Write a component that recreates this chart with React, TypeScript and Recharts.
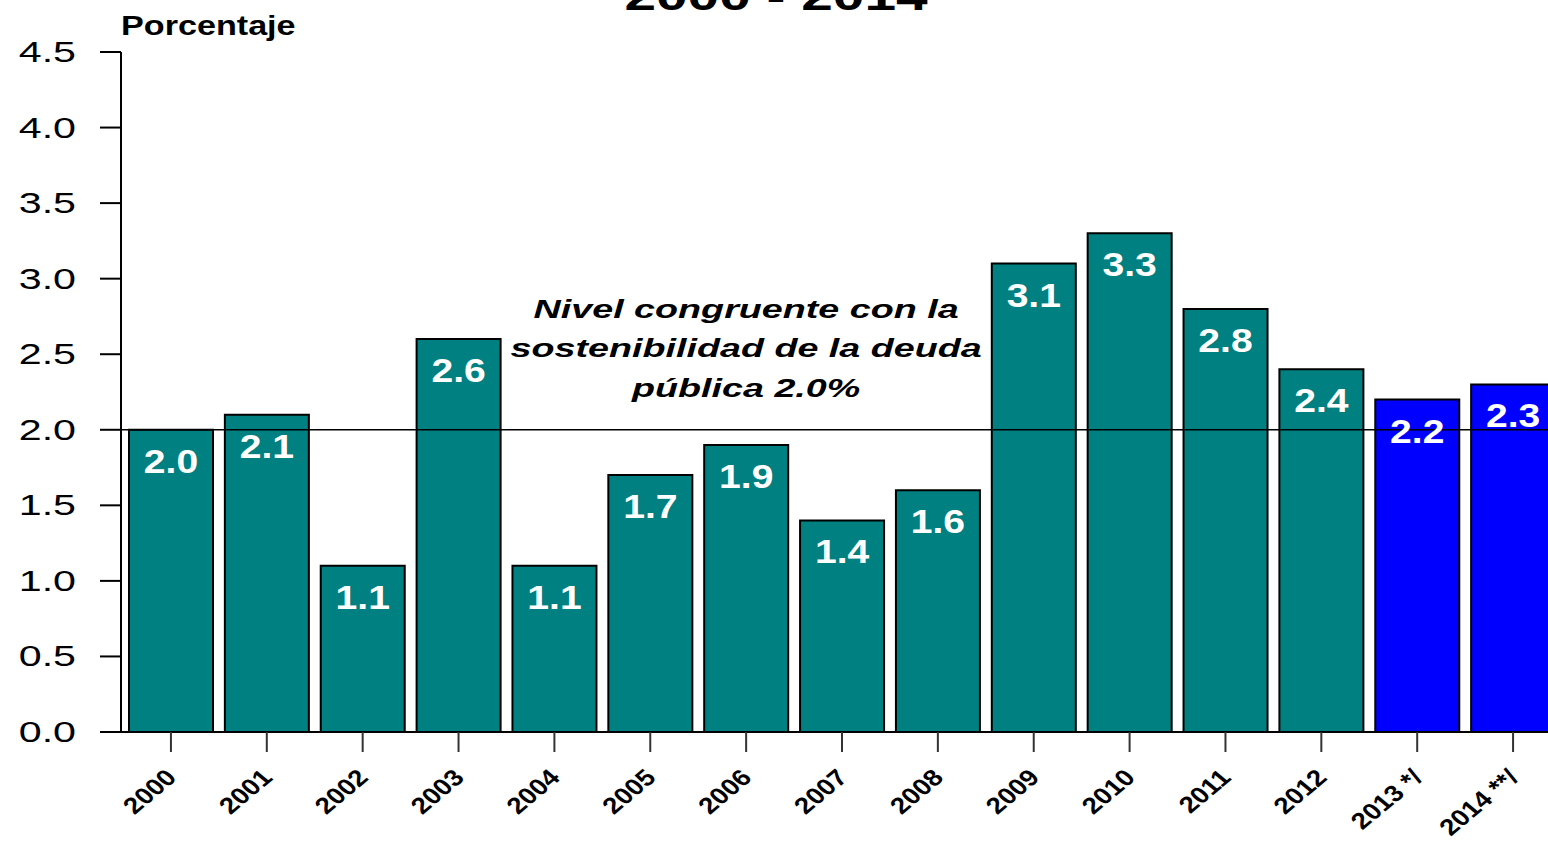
import React from 'react';
import { BarChart, Bar, XAxis, YAxis, Cell, ReferenceLine, ReferenceDot, LabelList } from 'recharts';

const years = ['2000', '2001', '2002', '2003', '2004', '2005', '2006', '2007', '2008', '2009', '2010', '2011', '2012', '2013 */', '2014 **/'];
const values = [2.0, 2.1, 1.1, 2.6, 1.1, 1.7, 1.9, 1.4, 1.6, 3.1, 3.3, 2.8, 2.4, 2.2, 2.3];
const estimated = [false, false, false, false, false, false, false, false, false, false, false, false, false, true, true];
const yTicks = [0, 0.5, 1.0, 1.5, 2.0, 2.5, 3.0, 3.5, 4.0, 4.5];
const titleText = '2000 - 2014';
const yAxisTitle = 'Porcentaje';
const noteLines = ['Nivel congruente con la', 'sostenibilidad de la deuda', 'pública 2.0%'];
const sustainableLevel = 2.0;
const noteYear = '2006';
const noteValue = 2.74;

const data = years.map((y, i) => ({ year: y, value: values[i], estimated: estimated[i] }));

const FONT = '"Liberation Sans", Arial, sans-serif';
const TEAL = '#008080';
const BLUE = '#0000FF';

const YTick = (props: any) => {
  const { x, y, payload } = props;
  return (
    <text
      transform={`translate(${x - 22},${y + 10}) scale(1.42,1)`}
      textAnchor="end"
      fontFamily={FONT}
      fontSize={29}
      fill="#000"
    >
      {Number(payload.value).toFixed(1)}
    </text>
  );
};

const XTick = (props: any) => {
  const { x, y, payload } = props;
  return (
    <text
      transform={`translate(${x + 7},${y + 25}) scale(1.2,1) rotate(-45)`}
      textAnchor="end"
      fontFamily={FONT}
      fontWeight="bold"
      fontSize={23}
      fill="#000"
    >
      {payload.value}
    </text>
  );
};

const ValueLabel = (props: any) => {
  const { x, y, width, value } = props;
  return (
    <text
      transform={`translate(${x + width / 2},${y + 43}) scale(1.15,1)`}
      textAnchor="middle"
      fontFamily={FONT}
      fontWeight="bold"
      fontSize={34}
      fill="#fff"
    >
      {Number(value).toFixed(1)}
    </text>
  );
};

const YTitle = (props: any) => {
  const { viewBox } = props;
  return (
    <text
      transform={`translate(${viewBox.x + viewBox.width},${viewBox.y - 17}) scale(1.22,1)`}
      textAnchor="start"
      fontFamily={FONT}
      fontWeight="bold"
      fontSize={28}
      fill="#000"
    >
      {yAxisTitle}
    </text>
  );
};

const NoteLabel = (props: any) => {
  const { viewBox } = props;
  const cx = viewBox.x + (viewBox.width || 0) / 2;
  const cy = viewBox.y + (viewBox.height || 0) / 2;
  return (
    <g>
      {noteLines.map((line, i) => (
        <text
          key={i}
          transform={`translate(${cx},${cy + i * 39.5}) scale(1.45,1)`}
          textAnchor="middle"
          fontFamily={FONT}
          fontWeight="bold"
          fontStyle="italic"
          fontSize={26}
          fill="#000"
        >
          {line}
        </text>
      ))}
    </g>
  );
};

export default function App() {
  return (
    <div style={{ position: 'absolute', left: 0, top: 0, width: 1548, height: 844, overflow: 'hidden', background: '#fff' }}>
      <svg width={1548} height={40} style={{ position: 'absolute', left: 0, top: 0, zIndex: 2 }}>
        <text
          transform="translate(776,10) scale(1.42,1)"
          textAnchor="middle"
          fontFamily={FONT}
          fontWeight="bold"
          fontSize={40}
          fill="#000"
        >
          {titleText}
        </text>
      </svg>
      <div style={{ position: 'absolute', left: 0, top: 0 }}>
        <BarChart
          width={1600}
          height={844}
          data={data}
          margin={{ top: 52, right: 39, left: 0, bottom: 12 }}
          barSize={84}
        >
          <YAxis
            type="number"
            domain={[0, 4.5]}
            ticks={yTicks}
            width={121}
            tickSize={21}
            tick={<YTick />}
            axisLine={{ stroke: '#000', strokeWidth: 2 }}
            tickLine={{ stroke: '#000', strokeWidth: 2 }}
            allowDataOverflow
            label={<YTitle />}
          />
          <XAxis
            dataKey="year"
            height={100}
            interval={0}
            padding={{ left: 2, right: 0 }}
            tickSize={20}
            tick={<XTick />}
            axisLine={{ stroke: '#000', strokeWidth: 2 }}
            tickLine={{ stroke: '#333', strokeWidth: 2 }}
          />
          <Bar dataKey="value" stroke="#000" strokeWidth={2} isAnimationActive={false}>
            {data.map((d, i) => (
              <Cell key={i} fill={d.estimated ? BLUE : TEAL} />
            ))}
            <LabelList dataKey="value" content={<ValueLabel />} />
          </Bar>
          <ReferenceLine y={sustainableLevel} stroke="#000" strokeWidth={1.5} />
          <ReferenceDot x={noteYear} y={noteValue} r={0} fill="none" stroke="none" label={<NoteLabel />} />
        </BarChart>
      </div>
    </div>
  );
}
